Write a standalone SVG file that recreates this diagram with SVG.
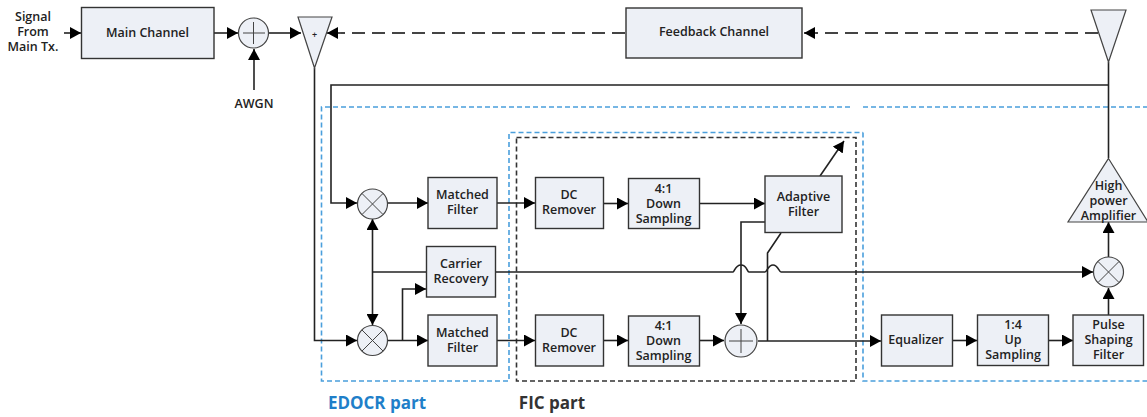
<svg xmlns="http://www.w3.org/2000/svg" width="1147" height="417" viewBox="0 0 1147 417">
<style>
text{font-family:"Open Sans","Noto Sans","Liberation Sans",sans-serif;font-weight:600;font-size:12.5px;fill:#222;text-anchor:middle}
.b{fill:#edf0f6;stroke:#333;stroke-width:1.4}
.c{fill:#edf0f6;stroke:#444;stroke-width:1.2}
.x{fill:none;stroke:#444;stroke-width:1}
.l{fill:none;stroke:#222;stroke-width:1.6}
.a{marker-end:url(#ah)}
.d{fill:none;stroke:#444;stroke-width:2;stroke-dasharray:13 7}
.e{fill:none;stroke:#4a9fdc;stroke-width:1.6;stroke-dasharray:5 3}
.f{fill:none;stroke:#333;stroke-width:1.6;stroke-dasharray:5 3}
.t{font-size:17px;font-weight:700}
</style>
<defs>
<marker id="ah" markerUnits="userSpaceOnUse" markerWidth="12" markerHeight="12" refX="11" refY="6" orient="auto"><path d="M0 0L11 6L0 12Z" fill="#000"/></marker>
</defs>
<g id="regions">
<path class="e" d="M850 107H321.5V381H509V132.5H863"/>
<path class="e" d="M863 107H1147M863 132.5V381H1147"/>
<rect class="f" x="516.5" y="137.5" width="339.5" height="243.5"/>
</g>
<g id="connectors">
<path class="l a" d="M64 33H81"/>
<path class="l a" d="M214 33H238"/>
<path class="l a" d="M254 90V49"/>
<path class="l a" d="M269 33H301"/>
<path class="d" d="M1098 33H816"/>
<path class="l a" d="M816 33H804"/>
<path class="d" d="M625 33H341"/>
<path class="l a" d="M341 33H327"/>
<path class="l" d="M1108.500 62V158"/>
<path class="l a" d="M1108 85H331V203H357"/>
<path class="l a" d="M314.500 68V340.500H357"/>
<path class="l a" d="M388 203H428"/>
<path class="l a" d="M388 340.500H428"/>
<path class="l a" d="M402.500 340.500V289H426"/>
<path class="l a" d="M372.500 272V219"/>
<path class="l a" d="M372.500 272V325"/>
<path class="l" d="M372.500 272H426"/>
<path class="l a" d="M495 272H733c1.500 0 2-7 8-7s6 7 8 7h16c2 0 3-7 8-7s6 7 8 7H1093"/>
<path class="l a" d="M497 203H535"/>
<path class="l a" d="M497 340.500H535"/>
<path class="l a" d="M603 203.500H628"/>
<path class="l a" d="M603 340.500H628"/>
<path class="l a" d="M699 203.500H765"/>
<path class="l a" d="M699 340.500H724"/>
<path class="l a" d="M765 222H741V324"/>
<path class="l a" d="M820 176L844 141"/>
<path class="l" d="M781 233L767.500 253V341"/>
<path class="l a" d="M758 341H881"/>
<path class="l a" d="M953 340.500H977"/>
<path class="l a" d="M1048 340.500H1073"/>
<path class="l a" d="M1108.500 315V288"/>
<path class="l a" d="M1108.500 257V222"/>
</g>
<g id="source"><text x="33" y="21">Signal</text><text x="33" y="36">From</text><text x="33" y="51">Main Tx.</text></g>
<g id="main-channel"><rect class="b" x="81.500" y="7.500" width="132.500" height="51"/><text x="147.500" y="37">Main Channel</text></g>
<g id="sum1"><circle class="c" cx="253.500" cy="33" r="15"/><path class="x" d="M243 33H265M253.500 22V44"/></g>
<g id="awgn"><text x="254" y="108">AWGN</text></g>
<g id="antenna-left"><path class="c" d="M298 17H332L314.500 68Z"/><text x="314.500" y="38" style="font-size:9px">+</text></g>
<g id="feedback-channel"><rect class="b" x="626" y="8" width="176" height="50"/><text x="714" y="36">Feedback Channel</text></g>
<g id="antenna-right"><path class="c" d="M1091 10H1126L1108.500 62Z"/></g>
<g id="mixer1"><circle class="c" cx="372.500" cy="204" r="15"/><path class="x" d="M362 193.500L383 214.500M383 193.500L362 214.500"/></g>
<g id="mixer2"><circle class="c" cx="372.500" cy="340.500" r="15"/><path class="x" d="M362 330L383 351M383 330L362 351"/></g>
<g id="matched-filter1"><rect class="b" x="428" y="177.500" width="69" height="51"/><text x="462.500" y="199">Matched</text><text x="462.500" y="214">Filter</text></g>
<g id="carrier-recovery"><rect class="b" x="426.500" y="246.500" width="69" height="50.500"/><text x="461" y="268">Carrier</text><text x="461" y="283">Recovery</text></g>
<g id="matched-filter2"><rect class="b" x="428" y="315" width="69" height="51"/><text x="462.500" y="337">Matched</text><text x="462.500" y="352">Filter</text></g>
<g id="dc-remover1"><rect class="b" x="535.500" y="177.500" width="68" height="51"/><text x="569" y="199">DC</text><text x="569" y="214">Remover</text></g>
<g id="dc-remover2"><rect class="b" x="535.500" y="315" width="68" height="51"/><text x="569" y="337">DC</text><text x="569" y="352">Remover</text></g>
<g id="down1"><rect class="b" x="628.500" y="178.500" width="71" height="50"/><text x="663.500" y="193">4:1</text><text x="663.500" y="208">Down</text><text x="663.500" y="223">Sampling</text></g>
<g id="down2"><rect class="b" x="628.500" y="316" width="71" height="50"/><text x="663.500" y="330">4:1</text><text x="663.500" y="345">Down</text><text x="663.500" y="360">Sampling</text></g>
<g id="adaptive-filter"><rect class="b" x="765" y="176" width="77" height="56.500"/><text x="803.500" y="201">Adaptive</text><text x="803.500" y="216">Filter</text></g>
<g id="sum2"><circle class="c" cx="741" cy="341" r="16"/><path class="x" d="M729 341H753M741 329V353"/></g>
<g id="equalizer"><rect class="b" x="881.500" y="315" width="71" height="51"/><text x="916" y="344">Equalizer</text></g>
<g id="up-sampling"><rect class="b" x="977.500" y="315" width="71" height="50.500"/><text x="1013" y="329">1:4</text><text x="1013" y="344">Up</text><text x="1013" y="359">Sampling</text></g>
<g id="pulse-shaping"><rect class="b" x="1073" y="315" width="70.500" height="50.500"/><text x="1108.500" y="329">Pulse</text><text x="1108.500" y="344">Shaping</text><text x="1108.500" y="359">Filter</text></g>
<g id="mixer3"><circle class="c" cx="1108.500" cy="272" r="15"/><path class="x" d="M1098 261.500L1119 282.500M1119 261.500L1098 282.500"/></g>
<g id="hpa"><path class="c" d="M1108.500 158.500L1148 222H1068Z"/><text x="1108.500" y="190">High</text><text x="1108.500" y="205">power</text><text x="1108.500" y="220">Amplifier</text></g>
<g id="labels"><text class="t" x="377" y="409" style="fill:#1f7fc9">EDOCR part</text><text class="t" x="552" y="409" style="fill:#333">FIC part</text></g>
</svg>
